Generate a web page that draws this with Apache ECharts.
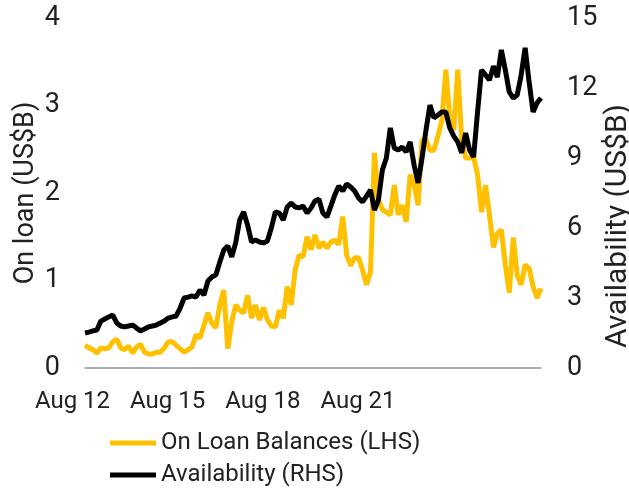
<!DOCTYPE html>
<html>
<head>
<meta charset="utf-8">
<script src="https://cdn.jsdelivr.net/npm/echarts@6/dist/echarts.min.js"></script>
<style>
  html, body { margin: 0; padding: 0; background: #fff; }
  #chart { width: 629px; height: 491px; }
</style>
</head>
<body>
<div id="chart"></div>
<script>
// x tick labels, one every 24 points
const xTickLabels = ['Aug 12', 'Aug 15', 'Aug 18', 'Aug 21']
const labelStep = 24

// on loan balances, US$B (left axis)
const onLoan = [
  0.26, 0.23, 0.21, 0.17, 0.23, 0.22, 0.23, 0.30, 0.33, 0.23,
  0.21, 0.25, 0.17, 0.24, 0.27, 0.18, 0.16, 0.16, 0.18, 0.18,
  0.23, 0.30, 0.30, 0.26, 0.22, 0.18, 0.21, 0.24, 0.38, 0.34,
  0.49, 0.63, 0.51, 0.46, 0.72, 0.89, 0.22, 0.53, 0.72, 0.66,
  0.63, 0.83, 0.57, 0.72, 0.55, 0.69, 0.55, 0.48, 0.47, 0.66,
  0.57, 0.93, 0.72, 1.12, 1.29, 1.27, 1.50, 1.35, 1.52, 1.37,
  1.44, 1.37, 1.44, 1.46, 1.41, 1.73, 1.29, 1.17, 1.26, 1.26,
  1.12, 0.95, 1.10, 2.46, 1.92, 1.81, 1.78, 1.75, 2.09, 1.75,
  1.86, 1.67, 2.21, 2.10, 1.86, 2.61, 2.61, 2.49, 2.49, 2.65,
  2.83, 3.41, 2.86, 2.72, 3.41, 2.61, 2.40, 2.40, 2.41, 2.21,
  1.78, 2.09, 1.75, 1.38, 1.54, 1.58, 1.18, 0.86, 1.49, 1.06,
  0.95, 1.18, 1.14, 0.93, 0.80, 0.91
]

// availability, US$B (right axis)
const availability = [
  1.50, 1.54, 1.59, 1.63, 2.01, 2.10, 2.19, 2.27, 1.93, 1.80,
  1.76, 1.80, 1.84, 1.71, 1.59, 1.67, 1.76, 1.80, 1.84, 1.93,
  2.01, 2.14, 2.19, 2.23, 2.57, 3.00, 3.04, 3.09, 3.04, 3.34,
  3.13, 3.73, 3.90, 3.99, 4.54, 5.06, 5.23, 4.76, 5.36, 6.34,
  6.69, 6.13, 5.40, 5.49, 5.40, 5.36, 5.44, 6.01, 6.69, 6.64,
  6.34, 6.90, 7.07, 6.90, 6.86, 6.94, 6.64, 6.86, 7.16, 7.24,
  6.64, 6.47, 6.94, 7.42, 7.80, 7.59, 7.89, 7.76, 7.59, 7.29,
  7.12, 7.37, 7.63, 6.77, 7.20, 8.49, 9.00, 10.29, 9.43, 9.34,
  9.47, 9.26, 9.69, 8.70, 7.93, 9.00, 10.20, 11.27, 10.72, 10.84,
  10.97, 10.97, 10.29, 9.94, 9.69, 9.22, 10.07, 9.34, 9.04, 10.97,
  12.77, 12.56, 12.34, 12.94, 12.47, 13.63, 12.77, 11.83, 11.57, 11.70,
  12.56, 13.72, 12.26, 10.97, 11.36, 11.57
]

const categories = onLoan.map((_, i) => String(i))

const font = 'Roboto, "Noto Sans", sans-serif'
const textColor = '#222'

const chart = echarts.init(document.getElementById('chart'))

chart.setOption({
  animation: false,
  grid: { left: 85, right: 88, top: 18, bottom: 123, containLabel: false, outerBoundsMode: 'none' },
  legend: {
    orient: 'vertical',
    left: 110,
    top: 430,
    height: 60,
    padding: 0,
    icon: 'rect',
    itemWidth: 46,
    itemHeight: 5,
    itemGap: 6,
    textStyle: { fontFamily: font, fontSize: 24, lineHeight: 26, color: textColor },
    data: ['On Loan Balances (LHS)', 'Availability (RHS)']
  },
  xAxis: {
    type: 'category',
    data: categories,
    boundaryGap: false,
    axisTick: { show: false },
    axisLine: { lineStyle: { color: '#8e93a6', width: 1.5 } },
    axisLabel: {
      interval: labelStep - 1,
      margin: 22,
      padding: [0, 25, 0, 0],
      fontFamily: font,
      fontSize: 24,
      color: textColor,
      formatter: (v, idx) => xTickLabels[idx / labelStep] || ''
    }
  },
  yAxis: [
    {
      type: 'value',
      min: 0,
      max: 4,
      interval: 1,
      name: 'On loan (US$B)',
      nameLocation: 'middle',
      nameRotate: 90,
      nameGap: 45,
      nameMoveOverlap: false,
      nameTextStyle: { fontFamily: font, fontSize: 27, color: textColor },
      axisLine: { show: false },
      axisTick: { show: false },
      splitLine: { show: false },
      axisLabel: { margin: 25, fontFamily: font, fontSize: 27, color: textColor }
    },
    {
      type: 'value',
      min: 0,
      max: 15,
      interval: 3,
      name: 'Availability (US$B)',
      nameLocation: 'middle',
      nameRotate: 90,
      nameGap: 62,
      nameMoveOverlap: false,
      nameTextStyle: { fontFamily: font, fontSize: 30, color: textColor, padding: [0, 66, 0, 0] },
      axisLine: { show: false },
      axisTick: { show: false },
      splitLine: { show: false },
      axisLabel: { margin: 26, fontFamily: font, fontSize: 27, color: textColor }
    }
  ],
  series: [
    {
      name: 'On Loan Balances (LHS)',
      type: 'line',
      yAxisIndex: 0,
      data: onLoan,
      showSymbol: false,
      lineStyle: { color: '#FFC000', width: 5 },
      itemStyle: { color: '#FFC000' }
    },
    {
      name: 'Availability (RHS)',
      type: 'line',
      yAxisIndex: 1,
      data: availability,
      showSymbol: false,
      lineStyle: { color: '#000000', width: 5 },
      itemStyle: { color: '#000000' }
    }
  ]
})
</script>
</body>
</html>
